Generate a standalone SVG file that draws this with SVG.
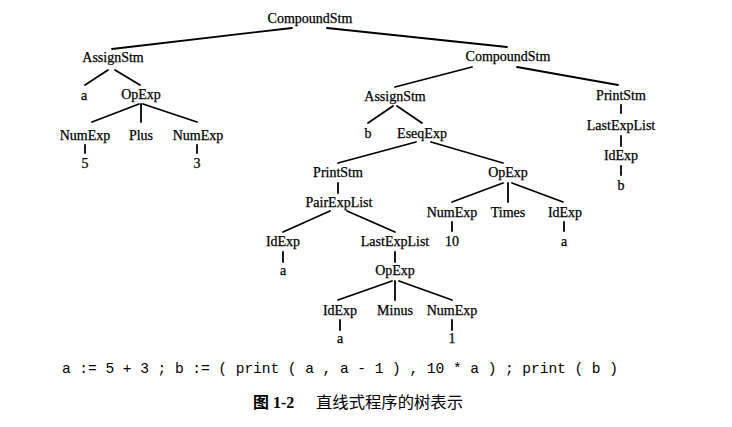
<svg xmlns="http://www.w3.org/2000/svg" width="732" height="427" viewBox="0 0 732 427">
<style>
.n{font-family:"Liberation Serif","Times New Roman",serif;font-size:14px;fill:#000;stroke:#000;stroke-width:0.25;text-anchor:middle}
.e line{stroke:#000;stroke-width:1.8;stroke-linecap:round}
.code{font-family:"Liberation Mono","Courier New",monospace;font-size:14.6px;fill:#000}
.cap{font-family:"Liberation Serif","Noto Sans CJK SC",serif;font-size:16px;fill:#000}
</style>
<rect width="732" height="427" fill="#fff"/>
<g class="e" id="connectors">
<line x1="292" y1="28" x2="112" y2="49"/>
<line x1="327" y1="28" x2="507" y2="47"/>
<line x1="108" y1="70" x2="85" y2="85"/>
<line x1="115" y1="70" x2="140" y2="85"/>
<line x1="139" y1="104" x2="92" y2="122"/>
<line x1="141" y1="104" x2="141" y2="122"/>
<line x1="143" y1="104" x2="197" y2="122"/>
<line x1="85" y1="145" x2="85" y2="153"/>
<line x1="197" y1="145" x2="197" y2="153"/>
<line x1="472" y1="67" x2="395" y2="87"/>
<line x1="517" y1="67" x2="618" y2="85"/>
<line x1="393" y1="106" x2="368" y2="123"/>
<line x1="397" y1="106" x2="422" y2="123"/>
<line x1="416" y1="142" x2="338" y2="163"/>
<line x1="431" y1="142" x2="503" y2="163"/>
<line x1="338" y1="183" x2="338" y2="193"/>
<line x1="330" y1="211" x2="283" y2="232"/>
<line x1="347" y1="211" x2="395" y2="232"/>
<line x1="283" y1="252" x2="283" y2="262"/>
<line x1="395" y1="252" x2="395" y2="262"/>
<line x1="392" y1="281" x2="338" y2="300"/>
<line x1="395" y1="281" x2="395" y2="300"/>
<line x1="399" y1="281" x2="452" y2="300"/>
<line x1="340" y1="320" x2="340" y2="330"/>
<line x1="452" y1="320" x2="452" y2="330"/>
<line x1="503" y1="183" x2="452" y2="202"/>
<line x1="508" y1="183" x2="508" y2="202"/>
<line x1="512" y1="183" x2="563" y2="202"/>
<line x1="452" y1="222" x2="452" y2="231"/>
<line x1="564" y1="222" x2="564" y2="231"/>
<line x1="621" y1="105" x2="621" y2="113"/>
<line x1="621" y1="136" x2="621" y2="146"/>
<line x1="621" y1="166" x2="621" y2="175"/>
</g>
<g id="compound1"><text class="n" x="310" y="23">CompoundStm</text></g>
<g id="assign1"><text class="n" x="113" y="62">AssignStm</text></g>
<g id="a1"><text class="n" x="84" y="100">a</text></g>
<g id="opexp1"><text class="n" x="141" y="99">OpExp</text></g>
<g id="numexp1"><text class="n" x="85" y="140">NumExp</text></g>
<g id="plus"><text class="n" x="141" y="140">Plus</text></g>
<g id="numexp2"><text class="n" x="198" y="140">NumExp</text></g>
<g id="five"><text class="n" x="85" y="168">5</text></g>
<g id="three"><text class="n" x="197" y="168">3</text></g>
<g id="compound2"><text class="n" x="508" y="61">CompoundStm</text></g>
<g id="assign2"><text class="n" x="395" y="101">AssignStm</text></g>
<g id="b1"><text class="n" x="368" y="138">b</text></g>
<g id="eseq"><text class="n" x="422" y="138">EseqExp</text></g>
<g id="print1"><text class="n" x="338" y="177">PrintStm</text></g>
<g id="opexp2"><text class="n" x="508" y="177">OpExp</text></g>
<g id="pairexplist"><text class="n" x="339" y="207">PairExpList</text></g>
<g id="numexp3"><text class="n" x="452" y="217">NumExp</text></g>
<g id="times"><text class="n" x="508" y="217">Times</text></g>
<g id="idexp1"><text class="n" x="565" y="217">IdExp</text></g>
<g id="ten"><text class="n" x="452" y="246">10</text></g>
<g id="a2"><text class="n" x="564" y="246">a</text></g>
<g id="idexp2"><text class="n" x="283" y="246">IdExp</text></g>
<g id="lastexplist1"><text class="n" x="395" y="246">LastExpList</text></g>
<g id="a3"><text class="n" x="283" y="275">a</text></g>
<g id="opexp3"><text class="n" x="395" y="275">OpExp</text></g>
<g id="idexp3"><text class="n" x="340" y="315">IdExp</text></g>
<g id="minus"><text class="n" x="395" y="315">Minus</text></g>
<g id="numexp4"><text class="n" x="452" y="315">NumExp</text></g>
<g id="a4"><text class="n" x="340" y="343">a</text></g>
<g id="one"><text class="n" x="452" y="343">1</text></g>
<g id="print2"><text class="n" x="621" y="100">PrintStm</text></g>
<g id="lastexplist2"><text class="n" x="621" y="130">LastExpList</text></g>
<g id="idexp4"><text class="n" x="621" y="160">IdExp</text></g>
<g id="b2"><text class="n" x="621" y="190">b</text></g>
<text class="code" x="62" y="373" textLength="556" lengthAdjust="spacing">a := 5 + 3 ; b := ( print ( a , a - 1 ) , 10 * a ) ; print ( b )</text>
<text class="cap" x="253" y="408" font-weight="bold">图 1-2</text>
<text class="cap" x="316" y="408" textLength="147" lengthAdjust="spacingAndGlyphs">直线式程序的树表示</text>
</svg>
